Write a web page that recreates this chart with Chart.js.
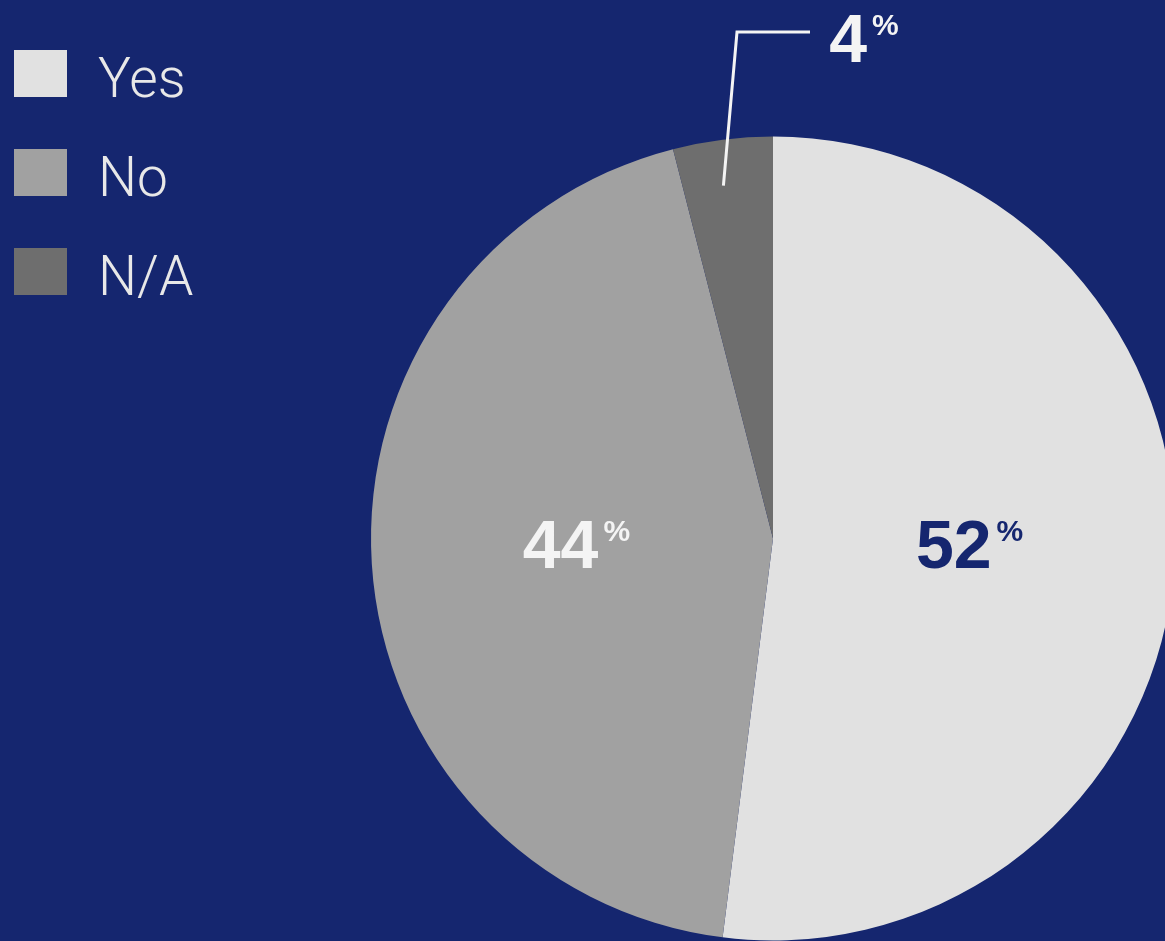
<!DOCTYPE html>
<html>
<head>
  <meta charset="UTF-8">
  <title>Yes / No / N/A</title>
  <script src="https://cdn.jsdelivr.net/npm/chart.js"></script>
  <style>
    html, body {
      margin: 0;
      padding: 0;
      background: #15266f;
      overflow: hidden;
      width: 1165px;
      height: 941px;
    }
    canvas {
      display: block;
    }
  </style>
</head>
<body>
  <canvas id="pieChart" width="1175" height="941"></canvas>

  <script>
    // Survey answers, in percent
    const categories = ['Yes', 'No', 'N/A'];
    const shares = [52, 44, 4];
    const sliceColors = ['#e1e1e1', '#a1a1a1', '#6e6e6e'];
    const labelColors = ['#15266f', '#f4f4f4', '#f4f4f4'];

    // legend drawn in the top-left corner
    const legendPlugin = {
      id: 'cornerLegend',
      afterDraw(chart) {
        const ctx = chart.ctx;
        ctx.save();
        ctx.font = '300 55px Roboto, "Liberation Sans", Arial, sans-serif';
        ctx.textBaseline = 'alphabetic';
        ctx.textAlign = 'left';
        chart.data.labels.forEach((label, i) => {
          const base = 97 + i * 99;
          ctx.fillStyle = chart.data.datasets[0].backgroundColor[i];
          ctx.fillRect(14, base - 47, 53, 47);
          ctx.fillStyle = '#e8e8e8';
          ctx.fillText(label, 98, base);
        });
        ctx.restore();
      }
    };

    // percentage labels with a small superscript %
    const valuePlugin = {
      id: 'valueLabels',
      afterDraw(chart) {
        const ctx = chart.ctx;
        const meta = chart.getDatasetMeta(0);
        const values = chart.data.datasets[0].data;
        ctx.save();
        ctx.textBaseline = 'alphabetic';
        ctx.textAlign = 'left';

        function drawPct(v, x, baseY, color) {
          const num = String(v);
          ctx.fillStyle = color;
          ctx.font = 'bold 68px "Liberation Sans", Arial, sans-serif';
          const w = ctx.measureText(num).width;
          ctx.font = 'bold 30px "Liberation Sans", Arial, sans-serif';
          const pw = ctx.measureText('%').width;
          const left = x - (w + 5 + pw) / 2;
          ctx.font = 'bold 68px "Liberation Sans", Arial, sans-serif';
          ctx.fillText(num, left, baseY);
          ctx.font = 'bold 30px "Liberation Sans", Arial, sans-serif';
          ctx.fillText('%', left + w + 5, baseY - 27);
        }

        meta.data.forEach((arc, i) => {
          const mid = (arc.startAngle + arc.endAngle) / 2;
          const r = arc.outerRadius;
          if (values[i] >= 10) {
            const x = arc.x + Math.cos(mid) * r * 0.49;
            drawPct(values[i], x, arc.y + 29, labelColors[i]);
          } else {
            // small slice: leader line out to the top
            const sx = arc.x + Math.cos(mid) * r * 0.885 - 5;
            const sy = arc.y + Math.sin(mid) * r * 0.885;
            const ex = arc.x - 36;
            const ey = 32;
            ctx.strokeStyle = '#f4f4f4';
            ctx.lineWidth = 3;
            ctx.beginPath();
            ctx.moveTo(sx, sy);
            ctx.lineTo(ex, ey);
            ctx.lineTo(ex + 73, ey);
            ctx.stroke();
            drawPct(values[i], ex + 127, 62, labelColors[i]);
          }
        });
        ctx.restore();
      }
    };

    const ctx = document.getElementById('pieChart').getContext('2d');
    new Chart(ctx, {
      type: 'pie',
      data: {
        labels: categories,
        datasets: [{
          data: shares,
          backgroundColor: sliceColors,
          borderWidth: 0
        }]
      },
      options: {
        responsive: false,
        animation: false,
        layout: {
          padding: { left: 371, right: 0, top: 136, bottom: 0 }
        },
        plugins: {
          legend: { display: false },
          tooltip: { enabled: false }
        }
      },
      plugins: [legendPlugin, valuePlugin]
    });
  </script>
</body>
</html>
